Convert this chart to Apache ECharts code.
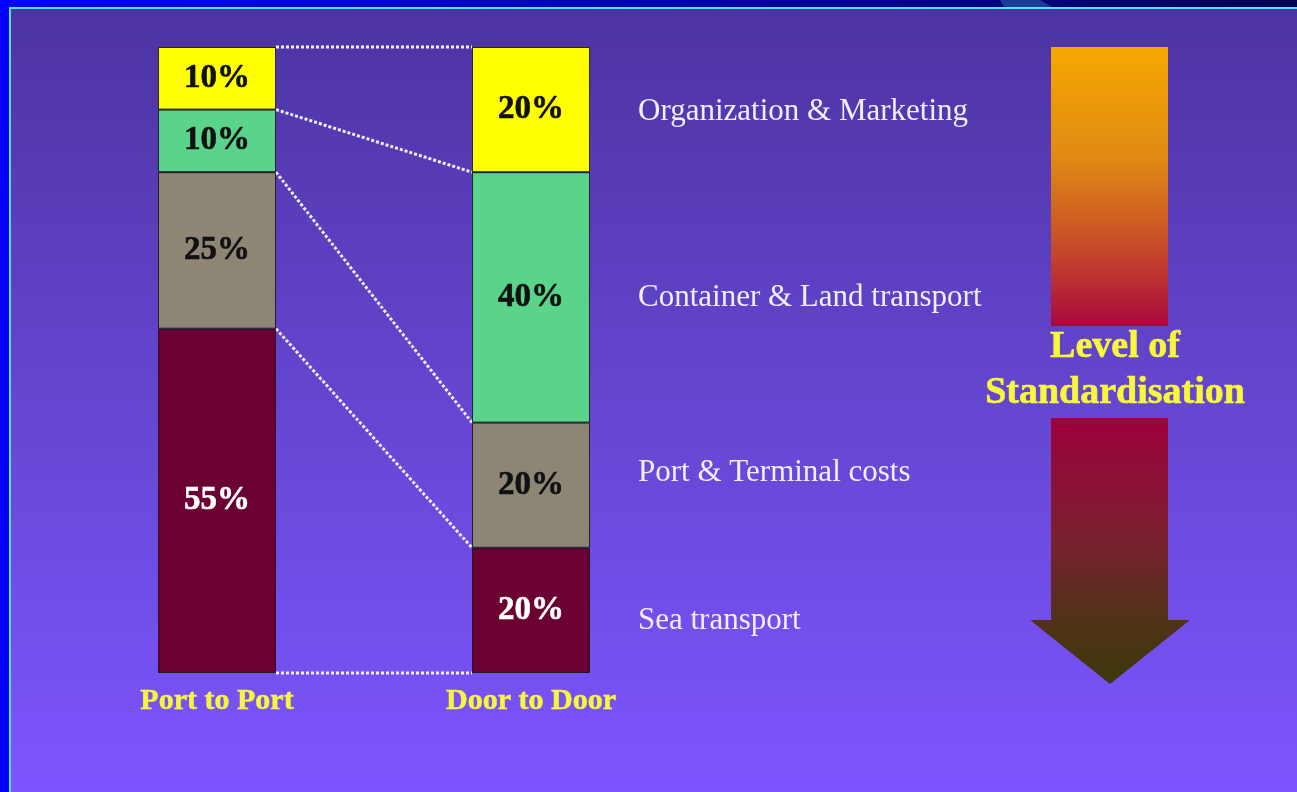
<!DOCTYPE html>
<html>
<head>
<meta charset="utf-8">
<script src="https://cdn.jsdelivr.net/npm/echarts@6/dist/echarts.min.js"></script>
<style>
html,body{margin:0;padding:0;background:#5a3fc0;}
#chart{width:1297px;height:792px;}
</style>
</head>
<body>
<div id="chart"></div>
<script>
// ---- data ----
var categories = ['Port to Port', 'Door to Door'];
var segmentNames = ['Sea transport', 'Port & Terminal costs', 'Container & Land transport', 'Organization & Marketing'];
var seaTransport = [55, 20];
var portTerminal = [25, 20];
var containerLand = [10, 40];
var orgMarketing = [10, 20];
var sideTitle = ['Level of', 'Standardisation'];

// ---- styling ----
var segColors = ['#6b0032', '#8d8674', '#5ad48b', '#ffff00'];
var labelColors = ['#ffffff', '#111111', '#111111', '#111111'];
var serif = '"Liberation Serif", "Times New Roman", serif';
var BAR_W = 118;
var nameOffsets = [10, -12, 0, 2]; // small vertical nudges for the side names

var seriesValues = [seaTransport, portTerminal, containerLand, orgMarketing];

function boundaries(ci) {
  var b = [0], s = 0;
  for (var i = 0; i < seriesValues.length; i++) { s += seriesValues[i][ci]; b.push(s); }
  return b;
}
var bPort = boundaries(0), bDoor = boundaries(1);
var connectorData = bPort.map(function (v, i) { return [v, bDoor[i]]; });

var nameData = segmentNames.map(function (n, i) {
  return [1, (bDoor[i] + bDoor[i + 1]) / 2, n];
});

var chart = echarts.init(document.getElementById('chart'), null, {renderer: 'canvas'});

var barSeries = seriesValues.map(function (vals, i) {
  return {
    name: segmentNames[i],
    type: 'bar',
    stack: 'total',
    barWidth: BAR_W,
    data: vals,
    itemStyle: {color: segColors[i], borderColor: 'rgba(20,20,20,0.85)', borderWidth: 1},
    label: {
      show: true,
      position: 'inside',
      formatter: '{c}%',
      color: labelColors[i],
      fontFamily: serif,
      fontWeight: 'bold',
      fontSize: 33,
      textBorderColor: labelColors[i],
      textBorderWidth: 0.6
    },
    emphasis: {disabled: true},
    z: 3
  };
});

var option = {
  animation: false,
  backgroundColor: {
    type: 'linear', x: 0, y: 0, x2: 0, y2: 1,
    colorStops: [{offset: 0, color: '#4c33a0'}, {offset: 0.5, color: '#6446d0'}, {offset: 1, color: '#7d55ff'}]
  },
  grid: {left: 60, width: 628, top: 47, height: 626},
  xAxis: {
    type: 'category',
    data: categories,
    axisLine: {show: false},
    axisTick: {show: false},
    axisLabel: {
      color: '#f6f63c',
      fontFamily: serif,
      fontWeight: 'bold',
      fontSize: 30,
      margin: 13,
      textBorderColor: '#f6f63c',
      textBorderWidth: 0.5
    }
  },
  yAxis: {type: 'value', min: 0, max: 100, show: false},
  series: barSeries.concat([
    {
      type: 'custom',
      name: 'connectors',
      data: connectorData,
      z: 2,
      renderItem: function (params, api) {
        var p0 = api.coord([0, api.value(0)]);
        var p1 = api.coord([1, api.value(1)]);
        return {
          type: 'line',
          shape: {x1: p0[0] + BAR_W / 2, y1: p0[1], x2: p1[0] - BAR_W / 2, y2: p1[1]},
          style: {stroke: '#f4f0ff', lineWidth: 3, lineDash: [3, 2]}
        };
      }
    },
    {
      type: 'custom',
      name: 'names',
      data: nameData,
      z: 4,
      renderItem: function (params, api) {
        var p = api.coord([api.value(0), api.value(1)]);
        return {
          type: 'text',
          x: p[0] + BAR_W / 2 + 48,
          y: p[1] + nameOffsets[params.dataIndex],
          style: {
            text: segmentNames[params.dataIndex],
            fill: '#f3eeff',
            font: '31px ' + serif,
            verticalAlign: 'middle',
            align: 'left'
          }
        };
      }
    }
  ]),
  graphic: [
    {type: 'rect', shape: {x: 0, y: 0, width: 1297, height: 8}, z: 10,
      style: {fill: {type: 'linear', x: 0, y: 0, x2: 1, y2: 0,
        colorStops: [{offset: 0, color: '#0000ff'}, {offset: 0.35, color: '#0000c8'}, {offset: 0.7, color: '#000090'}, {offset: 1, color: '#000050'}]}}},
    {type: 'polygon', shape: {points: [[1000, 0], [1040, 0], [1052, 7], [1004, 7]]}, z: 11,
      style: {fill: '#1e3a98'}},
    {type: 'rect', shape: {x: 0, y: 0, width: 9, height: 792}, z: 10, style: {fill: '#0000ff'}},
    {type: 'rect', shape: {x: 9, y: 7, width: 1288, height: 2}, z: 12, style: {fill: '#4fe6ff'}},
    {type: 'rect', shape: {x: 9, y: 7, width: 2, height: 785}, z: 12, style: {fill: '#4fe6ff'}},
    {type: 'rect', shape: {x: 1051, y: 47, width: 117, height: 279}, z: 5,
      style: {fill: {type: 'linear', x: 0, y: 0, x2: 0, y2: 1,
        colorStops: [{offset: 0, color: '#f6a800'}, {offset: 0.4, color: '#e08a14'}, {offset: 0.75, color: '#c4442c'}, {offset: 1, color: '#a8083e'}]}}},
    {type: 'polygon', z: 5,
      shape: {points: [[1051, 418], [1168, 418], [1168, 620], [1190, 620], [1110, 684], [1030, 620], [1051, 620]]},
      style: {fill: {type: 'linear', x: 0, y: 0, x2: 0, y2: 1,
        colorStops: [{offset: 0, color: '#9e003c'}, {offset: 0.45, color: '#7a2030'}, {offset: 0.75, color: '#523218'}, {offset: 1, color: '#3c380a'}]}}},
    {type: 'text', z: 6, x: 1115, y: 347,
      style: {text: sideTitle[0], fill: '#f8f83a', font: 'bold 38px ' + serif, align: 'center', verticalAlign: 'middle',
        stroke: '#f8f83a', lineWidth: 0.6}},
    {type: 'text', z: 6, x: 1115, y: 393,
      style: {text: sideTitle[1], fill: '#f8f83a', font: 'bold 38px ' + serif, align: 'center', verticalAlign: 'middle',
        stroke: '#f8f83a', lineWidth: 0.6}}
  ]
};
chart.setOption(option);
</script>
</body>
</html>
